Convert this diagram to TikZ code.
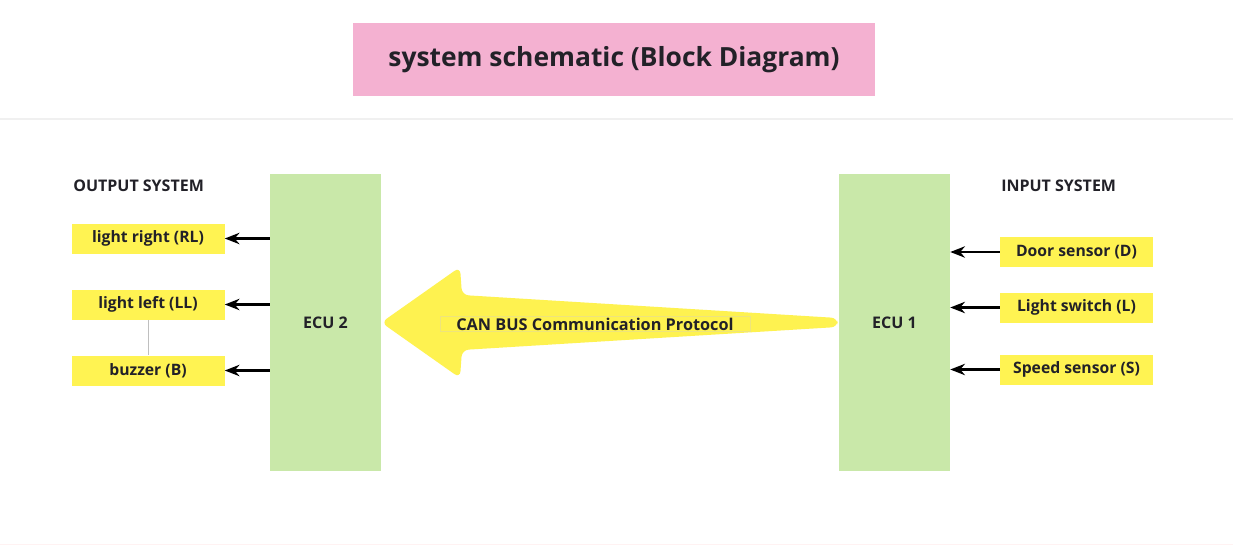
\documentclass[tikz,border=0pt]{standalone}
\usepackage{fontspec}
\setmainfont{Open Sans}
\usetikzlibrary{arrows.meta}

\definecolor{titlepink}{HTML}{F4B1D1}
\definecolor{ecugreen}{HTML}{C9E8A9}
\definecolor{boxyellow}{HTML}{FFF352}
\definecolor{busyellow}{HTML}{FEF250}
\definecolor{busline}{HTML}{EEE47C}
\definecolor{inkdark}{HTML}{222128}

\tikzset{
  titlebox/.style={fill=titlepink, text=inkdark, font=\fontsize{19.8}{24}\selectfont\bfseries,
    minimum width=391.5pt, minimum height=54.75pt, inner sep=0pt},
  ecu/.style={fill=ecugreen, text=inkdark, font=\fontsize{12}{14}\selectfont\bfseries,
    minimum width=83.25pt, minimum height=222.75pt, inner sep=0pt},
  ybox/.style={fill=boxyellow, text=inkdark, font=\fontsize{11.8}{14}\selectfont\bfseries,
    minimum width=114.75pt, minimum height=22.5pt, inner sep=0pt},
  heading/.style={text=inkdark, font=\fontsize{12}{14}\selectfont\bfseries, inner sep=0pt},
  sig/.style={line width=1.8pt, -{Stealth[length=11pt,width=8.5pt]}}
}

\begin{document}
\begin{tikzpicture}[x=0.75pt, y=-0.75pt]

    % Area del disegno
    \useasboundingbox (0,0) rectangle (1233,546);
    \fill[white] (0,0) rectangle (1233,546);

    % Linee di separazione
    \draw[gray!12, line width=0.8pt] (0,119) -- (1233,119);
    \draw[red!5, line width=1.2pt] (0,544.5) -- (1233,544.5);

    % Titolo
    \node[titlebox] (title) at (614,59.5) {system schematic (Block Diagram)};

    % Centraline
    \node[ecu] (ecu2) at (325.5,322.5) {ECU 2};
    \node[ecu] (ecu1) at (894.5,322.5) {ECU 1};

    % Intestazioni
    \node[heading, anchor=west] (outhead) at (73,186) {OUTPUT SYSTEM};
    \node[heading, anchor=west] (inhead) at (1001,186) {INPUT SYSTEM};

    % Uscite
    \node[ybox] (rl) at (148,238.5) {light right (RL)};
    \node[ybox] (ll) at (148,304.5) {light left (LL)};
    \node[ybox] (buzzer) at (148,370.5) {buzzer (B)};
    \draw[gray!50, line width=0.6pt] (ll.south) -- (buzzer.north);

    % Ingressi
    \node[ybox] (door) at (1076.5,252) {Door sensor (D)};
    \node[ybox] (lswitch) at (1076.5,307.5) {Light switch (L)};
    \node[ybox] (speed) at (1076.5,369.5) {Speed sensor (S)};

    % Frecce ECU 2 -> uscite
    \draw[sig] (ecu2.west |- rl) -- (rl.east);
    \draw[sig] (ecu2.west |- ll) -- (ll.east);
    \draw[sig] (ecu2.west |- buzzer) -- (buzzer.east);

    % Frecce ingressi -> ECU 1
    \draw[sig] (door.west) -- (ecu1.east |- door);
    \draw[sig] (lswitch.west) -- (ecu1.east |- lswitch);
    \draw[sig] (speed.west) -- (ecu1.east |- speed);

    % Freccia CAN BUS (da ECU 1 a ECU 2)
    \coordinate (bustail) at (ecu1.west);
    \coordinate (bustip) at (ecu2.east);
    \fill[busyellow, rounded corners=5pt] (bustail) ++(-1,-4.5) -- (462,295) -- (460,267)
        -- (bustip) -- (460,378) -- (462,350) -- ([shift={(-1,4.5)}]bustail) -- cycle;
    \node[draw=busline, line width=0.3pt, text=inkdark,
        font=\fontsize{12.2}{14}\selectfont\bfseries, minimum width=232.5pt,
        minimum height=11.25pt, inner sep=0pt] (can) at (595,324) {CAN BUS Communication Protocol};

\end{tikzpicture}
\end{document}
